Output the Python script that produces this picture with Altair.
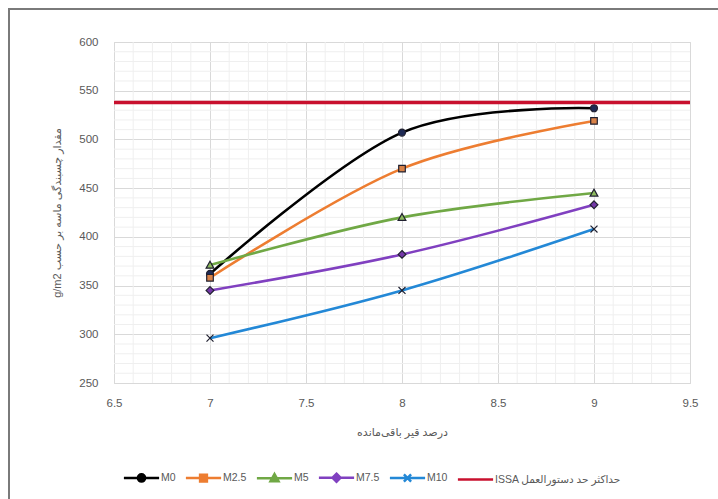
import altair as alt
import pandas as pd

# residual bitumen (%) and sand adhesion (g/m2) per mix
x_vals = [7, 8, 9]
series_names = ["M0", "M2.5", "M5", "M7.5", "M10"]
m0 = [362, 507, 532]
m25 = [358, 470, 519]
m5 = [371, 420, 445]
m75 = [345, 382, 433]
m10 = [296, 345, 408]
issa_label = "ISSA حداکثر حد دستورالعمل"
issa_limit = [538]

x_ticks = [6.5, 7, 7.5, 8, 8.5, 9, 9.5]
y_ticks = [250, 300, 350, 400, 450, 500, 550, 600]
x_minor = [6.6, 6.7, 6.8, 6.9, 7.1, 7.2, 7.3, 7.4, 7.6, 7.7, 7.8, 7.9,
           8.1, 8.2, 8.3, 8.4, 8.6, 8.7, 8.8, 8.9, 9.1, 9.2, 9.3, 9.4]
y_minor = [260, 270, 280, 290, 310, 320, 330, 340, 360, 370, 380, 390,
           410, 420, 430, 440, 460, 470, 480, 490, 510, 520, 530, 540,
           560, 570, 580, 590]

x_title = "درصد قیر باقی‌مانده"
y_title = "g/m2 مقدار چسبندگی ماسه بر حسب"

FONT = "Liberation Sans, DejaVu Sans, sans-serif"
LIMIT_RED = "#C8102E"

line_colors = ["#000000", "#ED7D31", "#70A845", "#8040C0", "#2388D6"]
marker_fills = ["#1E2A55", "#D98248", "#8DBA5E", "#7438A8", "#1E2A55"]

# marker paths (unit symbol space)
circle = "M0.9,0A0.9,0.9 0 1,1 -0.9,0A0.9,0.9 0 1,1 0.9,0Z"
square = "M-0.85,-0.85H0.85V0.85H-0.85Z"
triangle = "M0,-1L1,0.8H-1Z"
diamond = "M0,-1L1,0L0,1L-1,0Z"
xmark = "M-0.9,-0.9L0.9,0.9M-0.9,0.9L0.9,-0.9"
marker_paths = [circle, square, triangle, diamond, xmark]

# legend keys: a line segment with the marker in its middle
seg = "M-4.4,0H4.4"
legend_paths = [seg + p for p in marker_paths] + [seg]
legend_domain = series_names + [issa_label]
legend_colors = line_colors + [LIMIT_RED]

line_of = dict(zip(series_names, line_colors))
fill_of = dict(zip(series_names, marker_fills))
shape_of = dict(zip(series_names, marker_paths))

rows = []
for name, vals in zip(series_names, [m0, m25, m5, m75, m10]):
    for x, v in zip(x_vals, vals):
        rows.append({"x": x, "y": v, "series": name,
                     "lcolor": line_of[name], "mfill": fill_of[name],
                     "mshape": shape_of[name]})
df = pd.DataFrame(rows)

x_scale = alt.Scale(domain=[6.5, 9.5], nice=False, zero=False)
y_scale = alt.Scale(domain=[250, 600], nice=False, zero=False)

x_axis = alt.Axis(values=x_ticks, title=x_title, grid=True, ticks=False,
                  domain=False, labelPadding=14, titlePadding=18,
                  labelFlush=False, format="~g")
y_axis = alt.Axis(values=y_ticks, title=y_title, grid=True, ticks=False,
                  domain=False, labelPadding=16, titlePadding=16)

minor_x = alt.Chart(pd.DataFrame({"x": x_minor})).mark_rule(
    color="#EFEFEF", strokeWidth=1).encode(x=alt.X("x:Q", scale=x_scale, axis=x_axis))
minor_y = alt.Chart(pd.DataFrame({"y": y_minor})).mark_rule(
    color="#EFEFEF", strokeWidth=1).encode(y=alt.Y("y:Q", scale=y_scale, axis=y_axis))

base = alt.Chart(df).encode(
    x=alt.X("x:Q", scale=x_scale, axis=x_axis),
    y=alt.Y("y:Q", scale=y_scale, axis=y_axis),
)

lines = base.mark_line(strokeWidth=2.6, interpolate="cardinal").encode(
    stroke=alt.Stroke("lcolor:N", scale=None),
    detail="series:N",
)

points = base.mark_point(filled=True, size=60, stroke="#202030", strokeWidth=1.2,
                         opacity=1).encode(
    fill=alt.Fill("mfill:N", scale=None),
    shape=alt.Shape("mshape:N", scale=None),
)

limit = alt.Chart(pd.DataFrame({"y": issa_limit})).mark_rule(
    color=LIMIT_RED, strokeWidth=3.5).encode(y=alt.Y("y:Q", scale=y_scale, axis=y_axis))

legend = alt.Legend(
    title=None, orient="none", direction="horizontal", columns=6,
    legendX=22, legendY=430, symbolSize=64, symbolStrokeWidth=2.5,
    symbolOpacity=1, labelOffset=14, columnPadding=4,
    labelFontSize=10.5, labelColor="#595959", labelFont=FONT,
)

key = base.mark_point(filled=True, opacity=0).encode(
    color=alt.Color("series:N", scale=alt.Scale(domain=legend_domain, range=legend_colors),
                    legend=legend),
    stroke=alt.Stroke("series:N", scale=alt.Scale(domain=legend_domain, range=legend_colors),
                      legend=legend),
    shape=alt.Shape("series:N", scale=alt.Scale(domain=legend_domain, range=legend_paths),
                    legend=legend),
)

frame = alt.Chart(pd.DataFrame({"v": [0]})).mark_rect(
    fill=None, stroke="#7A7A7A", strokeWidth=2, clip=False).encode(
    x=alt.value(-105), x2=alt.value(720), y=alt.value(-33), y2=alt.value(560))

chart = alt.layer(minor_x, minor_y, lines, points, limit, key, frame).properties(
    width=576, height=341,
    padding={"left": 114, "top": 42, "right": 28, "bottom": 116},
    autosize=alt.AutoSizeParams(type="none"),
).configure(
    font=FONT,
).configure_view(
    stroke="#D9D9D9",
).configure_axis(
    gridColor="#D9D9D9", gridWidth=1,
    labelColor="#595959", labelFontSize=11.5, labelFont=FONT,
    titleColor="#595959", titleFontSize=11, titleFont=FONT, titleFontWeight="normal",
)

chart.save("out.html", embed_options={"renderer": "svg", "actions": False})
